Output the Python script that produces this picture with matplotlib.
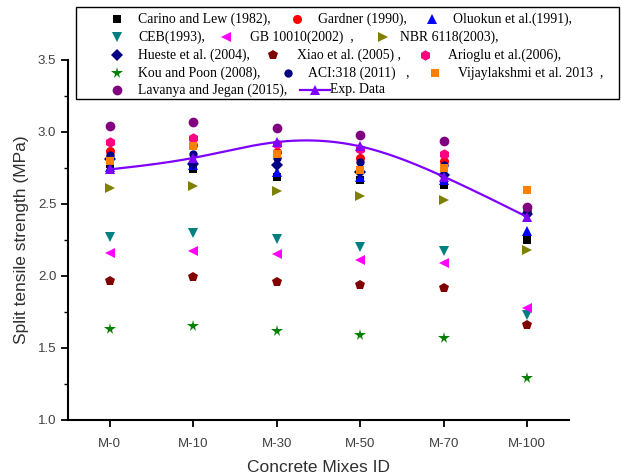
import numpy as np
import matplotlib
matplotlib.use("Agg")
import matplotlib.pyplot as plt
from matplotlib.lines import Line2D
from matplotlib.patches import Rectangle

# ---------------- data ----------------
mixes = ["M-0", "M-10", "M-30", "M-50", "M-70", "M-100"]

carino    = [2.78, 2.74, 2.69, 2.67, 2.63, 2.25]
gardner   = [2.87, 2.91, 2.86, 2.82, 2.80, 2.45]
oluokun   = [2.76, 2.77, 2.72, 2.69, 2.67, 2.31]
ceb       = [2.27, 2.30, 2.255, 2.20, 2.175, 1.73]
gb        = [2.16, 2.175, 2.15, 2.11, 2.09, 1.775]
nbr       = [2.61, 2.625, 2.59, 2.555, 2.53, 2.18]
hueste    = [2.81, 2.78, 2.77, 2.72, 2.70, 2.43]
xiao      = [1.965, 1.99, 1.955, 1.94, 1.915, 1.66]
arioglu   = [2.93, 2.955, 2.92, 2.88, 2.85, 2.47]
kou       = [1.63, 1.65, 1.62, 1.59, 1.57, 1.29]
aci       = [2.84, 2.85, 2.82, 2.79, 2.77, 2.44]
vijay     = [2.80, 2.90, 2.85, 2.735, 2.75, 2.60]
lavanya   = [3.04, 3.07, 3.025, 2.98, 2.94, 2.48]
exp_data  = [2.74, 2.82, 2.93, 2.90, 2.69, 2.41]

labels = ["Carino and Lew (1982),", "Gardner (1990),", "Oluokun et al.(1991),",
          "CEB(1993),", "GB 10010(2002)  ,", "NBR 6118(2003),",
          "Hueste et al. (2004),", "Xiao et al. (2005) ,", "Arioglu et al.(2006),",
          "Kou and Poon (2008),", "ACI:318 (2011)   ,", "Vijaylakshmi et al. 2013  ,",
          "Lavanya and Jegan (2015),", "Exp. Data"]

series = [carino, gardner, oluokun, ceb, gb, nbr, hueste, xiao, arioglu, kou,
          aci, vijay, lavanya]

# ---------------- styles ----------------
styles = [
    dict(marker="s", color="#000000", ms=6),
    dict(marker="o", color="#FF0000", ms=6.5),
    dict(marker="^", color="#0000FF", ms=7.5),
    dict(marker="v", color="#008080", ms=7.5),
    dict(marker="<", color="#FF00FF", ms=7.5),
    dict(marker=">", color="#808000", ms=7.5),
    dict(marker="D", color="#000080", ms=6),
    dict(marker="p", color="#800000", ms=7.5),
    dict(marker="h", color="#FF0080", ms=7.5),
    dict(marker="*", color="#008000", ms=8.5),
    dict(marker="o", color="#000080", ms=6),
    dict(marker="s", color="#FF8000", ms=6),
    dict(marker="o", color="#800080", ms=7),
]
exp_color = "#7F00FF"

plt.rcParams["font.family"] = ["Liberation Sans", "DejaVu Sans"]

W, H = 621, 475
fig = plt.figure(figsize=(W / 100, H / 100), dpi=100)
ax = fig.add_axes([68 / W, 1 - 420 / H, (569 - 68) / W, (420 - 60) / H])

x = np.arange(len(mixes))
for s, st in zip(series, styles):
    ax.plot(x, s, linestyle="none", marker=st["marker"], color=st["color"],
            markersize=st["ms"], markeredgewidth=0, zorder=3)


# smooth line through experimental data (natural cubic spline)
def natural_spline(xk, yk, xs):
    xk = np.asarray(xk, float)
    yk = np.asarray(yk, float)
    n = len(xk)
    h = np.diff(xk)
    A = np.zeros((n, n))
    b = np.zeros(n)
    A[0, 0] = 1
    A[-1, -1] = 1
    for i in range(1, n - 1):
        A[i, i - 1] = h[i - 1]
        A[i, i] = 2 * (h[i - 1] + h[i])
        A[i, i + 1] = h[i]
        b[i] = 6 * ((yk[i + 1] - yk[i]) / h[i] - (yk[i] - yk[i - 1]) / h[i - 1])
    M = np.linalg.solve(A, b)
    out = np.empty_like(xs)
    for j, xv in enumerate(xs):
        i = min(max(np.searchsorted(xk, xv) - 1, 0), n - 2)
        t0 = xk[i + 1] - xv
        t1 = xv - xk[i]
        out[j] = (M[i] * t0 ** 3 / (6 * h[i]) + M[i + 1] * t1 ** 3 / (6 * h[i])
                  + (yk[i] / h[i] - M[i] * h[i] / 6) * t0
                  + (yk[i + 1] / h[i] - M[i + 1] * h[i] / 6) * t1)
    return out


xs = np.linspace(0, len(mixes) - 1, 300)
ax.plot(xs, natural_spline(x, exp_data, xs), color=exp_color, lw=1.6, zorder=4)
ax.plot(x, exp_data, linestyle="none", marker="^", color=exp_color,
        markersize=7.5, markeredgewidth=0, zorder=5)

ax.set_xlim(-0.5, 5.5)
ax.set_ylim(1.0, 3.5)
ax.set_xticks(x)
ax.set_xticklabels(mixes)
ax.set_yticks([1.0, 1.5, 2.0, 2.5, 3.0, 3.5])
ax.set_yticks(np.arange(1.0, 3.51, 0.25), minor=True)
ax.spines["top"].set_visible(False)
ax.spines["right"].set_visible(False)
for sp in ("left", "bottom"):
    ax.spines[sp].set_linewidth(1.5)
ax.tick_params(axis="both", which="major", direction="out", length=5, width=1.3,
               labelsize=9.5, labelcolor="#404040")
ax.tick_params(axis="y", which="minor", direction="out", length=3, width=1.0)
ax.tick_params(axis="x", pad=8)
ax.set_xlabel("Concrete Mixes ID", fontsize=12.5, color="#303030", labelpad=7)
ax.set_ylabel("Split tensile strength (MPa)", fontsize=12.5, color="#303030", labelpad=6)

# ---------------- legend (inline, Origin style) ----------------
def fx(px):
    return px / W


def fy(py):
    return 1 - py / H


fig.add_artist(Rectangle((fx(76), fy(99)), (619 - 76) / W, (99 - 7) / H,
                         transform=fig.transFigure, facecolor="white",
                         edgecolor="black", lw=1.0, zorder=10))

rows_y = [19, 37, 55, 73, 90]
# (series index, row, marker x px, text x px)
layout = [
    (0, 0, 117, 138), (1, 0, 297, 318), (2, 0, 432, 453),
    (3, 1, 117, 138), (4, 1, 226, 250), (5, 1, 383, 400),
    (6, 2, 117, 138), (7, 2, 273, 297), (8, 2, 425, 448),
    (9, 3, 117, 138), (10, 3, 288, 308), (11, 3, 435, 458),
    (12, 4, 117, 138),
]
LEG_FS = 9.9
for idx, r, mx, tx in layout:
    st = styles[idx]
    fig.add_artist(Line2D([fx(mx)], [fy(rows_y[r])], transform=fig.transFigure,
                          marker=st["marker"], color=st["color"],
                          markersize=st["ms"], markeredgewidth=0,
                          linestyle="none", zorder=11))
    fig.text(fx(tx), fy(rows_y[r]), labels[idx], fontsize=LEG_FS,
             family=["Liberation Serif", "DejaVu Serif"], va="center",
             ha="left", zorder=11)

# Exp. Data entry
fig.add_artist(Line2D([fx(300), fx(330)], [fy(90), fy(90)], transform=fig.transFigure,
                      color=exp_color, lw=1.6, zorder=11))
fig.add_artist(Line2D([fx(315)], [fy(90)], transform=fig.transFigure,
                      marker="^", color=exp_color, markersize=7.5,
                      markeredgewidth=0, linestyle="none", zorder=12))
fig.text(fx(330), fy(90), labels[13], fontsize=LEG_FS,
         family=["Liberation Serif", "DejaVu Serif"], va="center", ha="left",
         zorder=11)

fig.savefig("out.png", dpi=100)
